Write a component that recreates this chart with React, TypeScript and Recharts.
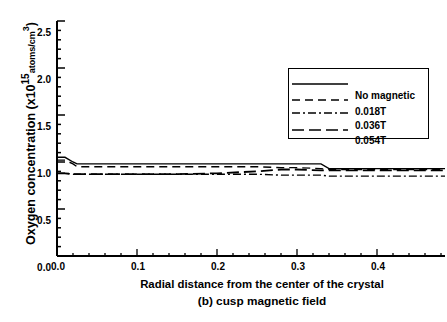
import React from 'react';
import { LineChart, Line, XAxis, YAxis } from 'recharts';

// Radial distance from the centre of the crystal
const radius = [0, 0.01, 0.02, 0.025, 0.05, 0.1, 0.15, 0.2, 0.25, 0.28, 0.3, 0.33, 0.34, 0.4, 0.45, 0.485];
// Oxygen concentration (x10^15 atoms/cm^3)
const noMagnetic = [1.05, 1.05, 1.0, 0.98, 0.98, 0.98, 0.98, 0.98, 0.98, 0.98, 0.98, 0.98, 0.93, 0.93, 0.93, 0.93];
const field018 = [1.02, 1.02, 0.98, 0.95, 0.95, 0.95, 0.95, 0.95, 0.95, 0.94, 0.94, 0.93, 0.92, 0.92, 0.92, 0.92];
const field036 = [0.88, 0.88, 0.87, 0.87, 0.87, 0.87, 0.87, 0.87, 0.87, 0.86, 0.86, 0.86, 0.85, 0.85, 0.85, 0.85];
const field054 = [0.88, 0.88, 0.87, 0.87, 0.87, 0.87, 0.87, 0.88, 0.9, 0.92, 0.92, 0.91, 0.91, 0.91, 0.91, 0.91];

const seriesNames = ['No magnetic', '0.018T', '0.036T', '0.054T'];
const xTicks = [0, 0.02, 0.04, 0.06, 0.08, 0.1, 0.12, 0.14, 0.16, 0.18, 0.2, 0.22, 0.24, 0.26, 0.28, 0.3, 0.32, 0.34, 0.36, 0.38, 0.4, 0.42, 0.44, 0.46, 0.48];
const yTicks = [0, 0.1, 0.2, 0.3, 0.4, 0.5, 0.6, 0.7, 0.8, 0.9, 1.0, 1.1, 1.2, 1.3, 1.4, 1.5, 1.6, 1.7, 1.8, 1.9, 2.0, 2.1, 2.2, 2.3, 2.4, 2.5];

const data = radius.map((r, i) => ({
  r,
  s0: noMagnetic[i],
  s1: field018[i],
  s2: field036[i],
  s3: field054[i],
}));

const FONT = '"Liberation Sans", Arial, sans-serif';

const isMult = (v: number, step: number) => Math.abs(v / step - Math.round(v / step)) < 1e-6;

const XTick = (props: any) => {
  const { x, y, payload } = props;
  const v = payload.value;
  const major = isMult(v, 0.1);
  return (
    <g>
      <line x1={x} y1={y} x2={x} y2={y - (major ? 7 : 3)} stroke="#000" strokeWidth={1.3} />
      {major && (
        <text x={x + 1} y={y + 14} textAnchor="middle" fontSize={10} fontWeight="bold" fontFamily={FONT} fill="#000">
          {v.toFixed(1)}
        </text>
      )}
    </g>
  );
};

const YTick = (props: any) => {
  const { x, y, payload } = props;
  const v = payload.value;
  const major = isMult(v, 0.5);
  return (
    <g>
      <line x1={x} y1={y} x2={x + (major ? 8 : 4)} y2={y} stroke="#000" strokeWidth={1.5} />
      {major && (
        <text x={x - 6} y={y + 15} textAnchor="end" fontSize={10} fontWeight="bold" fontFamily={FONT} fill="#000">
          {v.toFixed(1)}
        </text>
      )}
    </g>
  );
};

const XTitle = (props: any) => {
  const { viewBox } = props;
  const cx = viewBox.x + viewBox.width / 2 + 11;
  return (
    <g fontFamily={FONT} fontWeight="bold" fontSize={11.4} fill="#000">
      <text x={cx} y={viewBox.y + 32} textAnchor="middle">Radial distance from the center of the crystal</text>
      <text x={cx} y={viewBox.y + 49} textAnchor="middle" fontSize={11.8}>(b) cusp magnetic field</text>
    </g>
  );
};

const YTitle = (props: any) => {
  const { viewBox } = props;
  const cx = 35;
  const cy = viewBox.y + viewBox.height / 2 - 5;
  return (
    <text
      x={cx}
      y={cy}
      transform={`rotate(-90 ${cx} ${cy})`}
      textAnchor="middle"
      fontFamily={FONT}
      fontWeight="bold"
      fontSize={12.5}
      fill="#000"
    >
      Oxygen concentration (x10
      <tspan dy={-6} fontSize={10}>15</tspan>
      <tspan dy={6} fontSize={9}>atoms/cm</tspan>
      <tspan dy={-6} fontSize={9}>3</tspan>
      <tspan dy={6}>)</tspan>
    </text>
  );
};

const legendStyles = [
  { dash: undefined as string | undefined, width: 1.3 },
  { dash: '8 5', width: 1.3 },
  { dash: '8 3 2 3', width: 1.3 },
  { dash: '12 5', width: 1.5 },
];
const lineRows = [16, 32, 45, 62];
const textRows = [31, 47, 61, 76];

const LegendBox = () => (
  <svg width={142} height={82} style={{ overflow: 'visible', display: 'block' }}>
    <rect x={0.5} y={0.5} width={140} height={70} fill="#fff" stroke="#000" strokeWidth={1} />
    {seriesNames.map((name, i) => (
      <g key={name}>
        <line
          x1={4}
          x2={60}
          y1={lineRows[i]}
          y2={lineRows[i]}
          stroke="#000"
          strokeWidth={legendStyles[i].width}
          strokeDasharray={legendStyles[i].dash}
        />
        <text x={67} y={textRows[i]} fontFamily={FONT} fontWeight="bold" fontSize={10} fill="#000">
          {name}
        </text>
      </g>
    ))}
  </svg>
);

export default function App() {
  return (
    <div style={{ position: 'absolute', left: 0, top: 0, width: 447, height: 322, background: '#fff' }}>
      <LineChart width={447} height={322} data={data} margin={{ top: 21, right: 2, bottom: 0, left: 0 }}>
        <XAxis
          dataKey="r"
          type="number"
          domain={[0, 0.485]}
          ticks={xTicks}
          interval={0}
          allowDataOverflow
          height={66}
          tickSize={0}
          tickMargin={0}
          tickLine={false}
          tick={<XTick />}
          axisLine={{ stroke: '#000', strokeWidth: 2 }}
          label={{ content: <XTitle /> }}
        />
        <XAxis
          xAxisId="top"
          orientation="top"
          type="number"
          domain={[0, 0.485]}
          height={0}
          tick={false}
          tickLine={false}
          axisLine={{ stroke: '#000', strokeWidth: 2 }}
        />
        <YAxis
          type="number"
          domain={[0, 2.5]}
          ticks={yTicks}
          interval={0}
          allowDataOverflow
          width={57}
          tickSize={0}
          tickMargin={0}
          tickLine={false}
          tick={<YTick />}
          axisLine={{ stroke: '#000', strokeWidth: 2 }}
          label={{ content: <YTitle /> }}
        />
        <YAxis
          yAxisId="right"
          orientation="right"
          type="number"
          domain={[0, 2.5]}
          width={0}
          tick={false}
          tickLine={false}
          axisLine={{ stroke: '#000', strokeWidth: 2.5 }}
        />
        <Line dataKey="s0" name={seriesNames[0]} stroke="#000" strokeWidth={1.4} dot={false} type="linear" isAnimationActive={false} />
        <Line dataKey="s1" name={seriesNames[1]} stroke="#000" strokeWidth={1.4} strokeDasharray="8 5" dot={false} type="linear" isAnimationActive={false} />
        <Line dataKey="s2" name={seriesNames[2]} stroke="#000" strokeWidth={1.4} strokeDasharray="8 3 2 3" dot={false} type="linear" isAnimationActive={false} />
        <Line dataKey="s3" name={seriesNames[3]} stroke="#000" strokeWidth={1.8} strokeDasharray="12 5" dot={false} type="linear" isAnimationActive={false} />
      </LineChart>
      <div style={{ position: 'absolute', left: 288, top: 68, width: 142, height: 82 }}>
        <LegendBox />
      </div>
    </div>
  );
}
